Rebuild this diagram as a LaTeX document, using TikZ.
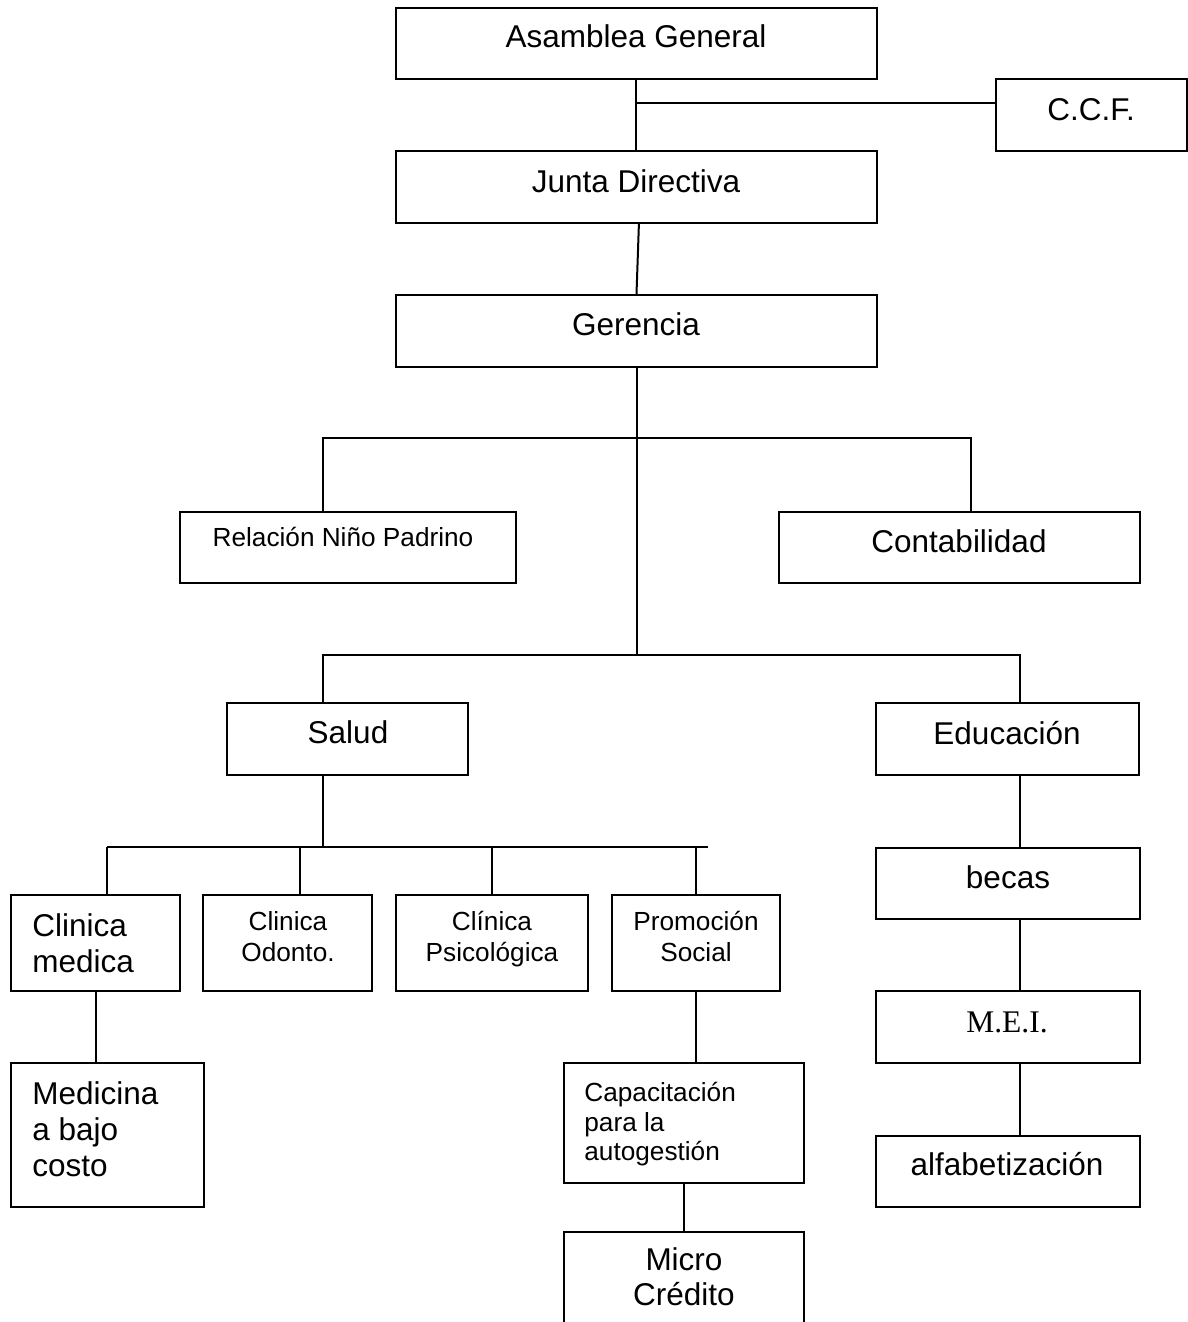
\documentclass[tikz,border=0pt]{standalone}
\usepackage{fontspec}
\setmainfont{Liberation Sans}
\newfontfamily\tnr{Liberation Serif}
\usetikzlibrary{fit}
\tikzset{
  box/.style={draw, line width=1pt, rectangle, inner sep=0pt},
  conn/.style={line width=1pt},
  big/.style={font=\fontsize{15.75}{18}\selectfont, inner sep=0pt, text=black},
  sml/.style={font=\fontsize{13.1}{15}\selectfont, inner sep=0pt, text=black},
  tms/.style={font=\tnr\fontsize{15.75}{18}\selectfont, inner sep=0pt, text=black}
}
\begin{document}
\begin{tikzpicture}[x=0.5pt,y=-0.5pt]
\useasboundingbox (0,0) rectangle (1188,1322);
\fill[white] (0,0) rectangle (1188,1322);
\clip (0,0) rectangle (1188,1322);
% boxes
\node[box, fit={(396,8) (877,79)}] (asam) {};
\node[box, fit={(996,79) (1187,151)}] (ccf) {};
\node[box, fit={(396,151) (877,223)}] (junta) {};
\node[box, fit={(396,295) (877,367)}] (ger) {};
\node[box, fit={(180,512) (516,583)}] (rel) {};
\node[box, fit={(779,512) (1140,583)}] (cont) {};
\node[box, fit={(227,703) (468,775)}] (sal) {};
\node[box, fit={(876,703) (1139,775)}] (edu) {};
\node[box, fit={(11,895) (180,991)}] (cmed) {};
\node[box, fit={(203,895) (372,991)}] (codo) {};
\node[box, fit={(396,895) (588,991)}] (cpsi) {};
\node[box, fit={(612,895) (780,991)}] (promo) {};
\node[box, fit={(11,1063) (204,1207)}] (medi) {};
\node[box, fit={(564,1063) (804,1183)}] (capac) {};
\node[box, fit={(564,1232) (804,1340)}] (micro) {};
\node[box, fit={(876,848) (1140,919)}] (becas) {};
\node[box, fit={(876,991) (1140,1063)}] (mei) {};
\node[box, fit={(876,1136) (1140,1207)}] (alfa) {};
% texts
\node[big, anchor=base] (tasam) at (636,48) {Asamblea General};
\node[big, anchor=base] (tccf) at (1091,120) {C.C.F.};
\node[big, anchor=base] (tjunta) at (636,192) {Junta Directiva};
\node[big, anchor=base] (tger) at (636,335) {Gerencia};
\node[sml, anchor=base] (trel) at (343,546) {Relación Niño Padrino};
\node[big, anchor=base] (tcont) at (959,552) {Contabilidad};
\node[big, anchor=base] (tsal) at (348,743) {Salud};
\node[big, anchor=base] (tedu) at (1007,744) {Educación};
\node[big, anchor=base west] (tcm1) at (32,936) {Clinica};
\node[big, anchor=base west] (tcm2) at (32,972) {medica};
\node[sml, anchor=base] (tco1) at (288,930) {Clinica};
\node[sml, anchor=base] (tco2) at (288,961) {Odonto.};
\node[sml, anchor=base] (tcp1) at (492,930) {Clínica};
\node[sml, anchor=base] (tcp2) at (492,961) {Psicológica};
\node[sml, anchor=base] (tps1) at (696,930) {Promoción};
\node[sml, anchor=base] (tps2) at (696,961) {Social};
\node[big, anchor=base west] (tme1) at (32,1104) {Medicina};
\node[big, anchor=base west] (tme2) at (32,1140) {a bajo};
\node[big, anchor=base west] (tme3) at (32,1176) {costo};
\node[sml, anchor=base west] (tca1) at (584,1101) {Capacitación};
\node[sml, anchor=base west] (tca2) at (584,1131) {para la};
\node[sml, anchor=base west] (tca3) at (584,1160) {autogestión};
\node[big, anchor=base] (tmi1) at (684,1270) {Micro};
\node[big, anchor=base] (tmi2) at (684,1305) {Crédito};
\node[big, anchor=base] (tbec) at (1008,888) {becas};
\node[tms, anchor=base] (tmei) at (1007,1032) {M.E.I.};
\node[big, anchor=base] (talf) at (1007,1175) {alfabetización};
% junction coordinates
\coordinate (j0) at (636,103);
\coordinate (r1) at (323,438);
\coordinate (c1) at (971,438);
\coordinate (s1) at (323,655);
\coordinate (e1) at (1020,655);
\coordinate (s2) at (323,847);
\coordinate (bl) at (107,847);
\coordinate (br) at (708,847);
\coordinate (d2) at (300,847);
\coordinate (d3) at (492,847);
\coordinate (d4) at (696,847);
\coordinate (mx) at (96,1000);
% connectors
\draw[conn] (asam.south -| j0) -- (junta.north -| j0);
\draw[conn] (j0) -- (j0 -| ccf.west);
\draw[conn] ([xshift=1.2pt]junta.south) -- (ger.north);
\draw[conn] (ger.south) -- (s1 -| ger.south);
\draw[conn] (rel.north -| r1) -- (r1) -- (c1) -- (c1 |- cont.north);
\draw[conn] (sal.north -| s1) -- (s1) -- (e1) -- (e1 |- edu.north);
\draw[conn] (sal.south -| s2) -- (s2);
\draw[conn] (bl) -- (br);
\draw[conn] (bl) -- (bl |- cmed.north);
\draw[conn] (d2) -- (d2 |- codo.north);
\draw[conn] (d3) -- (d3 |- cpsi.north);
\draw[conn] (d4) -- (d4 |- promo.north);
\draw[conn] (cmed.south -| mx) -- (medi.north -| mx);
\draw[conn] (promo.south) -- (capac.north -| promo.south);
\draw[conn] (capac.south) -- (micro.north);
\draw[conn] (edu.south -| e1) -- (becas.north -| e1);
\draw[conn] (becas.south -| e1) -- (mei.north -| e1);
\draw[conn] (mei.south -| e1) -- (alfa.north -| e1);
\end{tikzpicture}
\end{document}
